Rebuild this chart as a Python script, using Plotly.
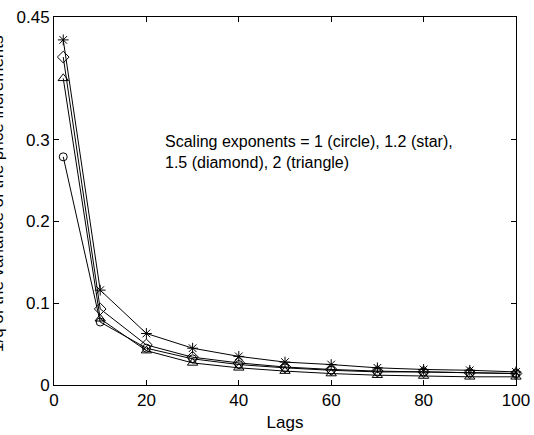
import plotly.graph_objects as go

lags = [2, 10, 20, 30, 40, 50, 60, 70, 80, 90, 100]
circle_vals = [0.279, 0.077, 0.045, 0.032, 0.025, 0.021, 0.018, 0.016, 0.016, 0.015, 0.014]
star_vals = [0.422, 0.116, 0.063, 0.045, 0.035, 0.028, 0.025, 0.021, 0.019, 0.018, 0.016]
diamond_vals = [0.401, 0.093, 0.049, 0.034, 0.027, 0.022, 0.019, 0.017, 0.016, 0.015, 0.014]
triangle_vals = [0.375, 0.081, 0.042, 0.027, 0.021, 0.017, 0.014, 0.012, 0.011, 0.010, 0.010]

x_ticks = [0, 20, 40, 60, 80, 100]
y_ticks = [0, 0.1, 0.2, 0.3, 0.45]
y_tick_labels = ["0", "0.1", "0.2", "0.3", "0.45"]

FONT = "Liberation Sans, Arial, sans-serif"

fig = go.Figure()
series = [
    (circle_vals, "circle-open", 8),
    (star_vals, "asterisk-open", 9),
    (diamond_vals, "diamond-open", 9),
    (triangle_vals, "triangle-up-open", 9),
]
for vals, sym, sz in series:
    fig.add_trace(go.Scatter(
        x=lags, y=vals, mode="lines+markers",
        line=dict(color="black", width=1),
        marker=dict(symbol=sym, size=sz, color="black", line=dict(color="black", width=1)),
        cliponaxis=False, showlegend=False,
    ))

axis_common = dict(
    showgrid=False, zeroline=False, showline=True, linecolor="black", linewidth=1,
    mirror="ticks", ticks="inside", ticklen=5, tickcolor="black", automargin=False,
    tickfont=dict(family=FONT, size=17, color="black"),
)
fig.update_xaxes(range=[0, 100], tickvals=x_ticks, **axis_common,
                 title=dict(text="Lags", font=dict(family=FONT, size=17, color="black"), standoff=6))
fig.update_yaxes(range=[0, 0.45], tickvals=y_ticks, ticktext=y_tick_labels, **axis_common)

fig.add_annotation(
    text="1/q of the variance of the price increments",
    xref="paper", yref="paper", x=(-3 - 54) / 462, y=0.519,
    xanchor="center", yanchor="middle", textangle=-90, showarrow=False,
    font=dict(family=FONT, size=17, color="black"),
)
fig.add_annotation(
    text="Scaling exponents = 1 (circle), 1.2 (star),<br>1.5 (diamond), 2 (triangle)",
    xref="x", yref="y", x=23.5, y=0.285, xanchor="left", yanchor="middle",
    align="left", showarrow=False,
    font=dict(family=FONT, size=16, color="black"),
)

fig.update_layout(
    width=534, height=435,
    margin=dict(l=54, r=18, t=17, b=50),
    paper_bgcolor="white", plot_bgcolor="white",
    font=dict(family=FONT, color="black"),
)
fig.write_html("out.html")
